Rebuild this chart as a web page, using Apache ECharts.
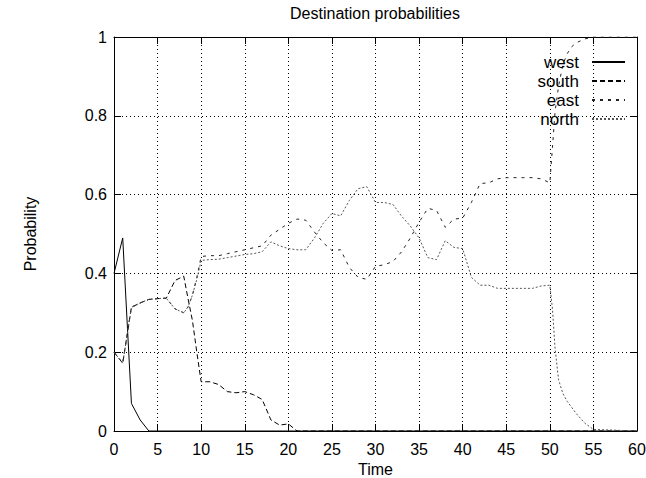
<!DOCTYPE html>
<html>
<head>
<meta charset="utf-8">
<script src="https://cdn.jsdelivr.net/npm/echarts@6/dist/echarts.min.js"></script>
<style>
html,body{margin:0;padding:0;background:#fff;}
#chart{width:646px;height:478px;}
</style>
</head>
<body>
<div id="chart"></div>
<script>
const titleText = 'Destination probabilities';
const xName = 'Time';
const yName = 'Probability';
const seriesNames = ['west', 'south', 'east', 'north'];

const westTime = [0, 1, 2, 3, 4, 60];
const westProb = [0.40, 0.49, 0.07, 0.028, 0.0, 0.0];

const southTime = [0,1,2,3,4,5,6,7,8,8.5,9,9.5,10,11,12,13,14,15,16,17,18,19,20,21,60];
const southProb = [0.20,0.172,0.314,0.325,0.334,0.336,0.337,0.382,0.393,0.335,0.28,0.20,0.125,0.125,0.118,0.100,0.097,0.100,0.092,0.080,0.028,0.015,0.018,0.0,0.0];

const eastTime = [0,1,2,3,4,5,6,7,8,8.5,9,9.5,10,11,12,13,14,15,16,17,18,19,20,21,22,23,24,25,26,27,28,29,30,31,32,33,34,35,36,37,38,39,40,41,42,43,44,45,46,47,48,49,50,50.3,50.6,51,51.5,52,52.5,53,54,55,60];
const eastProb = [0.20,0.172,0.314,0.325,0.334,0.336,0.337,0.31,0.30,0.315,0.345,0.39,0.443,0.445,0.445,0.45,0.455,0.46,0.465,0.47,0.497,0.512,0.527,0.538,0.535,0.505,0.478,0.458,0.46,0.415,0.39,0.385,0.418,0.422,0.43,0.455,0.49,0.53,0.565,0.56,0.517,0.538,0.54,0.58,0.628,0.63,0.64,0.643,0.643,0.643,0.643,0.64,0.63,0.72,0.81,0.875,0.93,0.958,0.975,0.985,0.995,1.0,1.0];

const northTime = [0,1,2,3,4,5,6,7,8,8.5,9,9.5,10,11,12,13,14,15,16,17,18,19,20,21,22,23,24,25,26,27,28,29,30,31,32,33,34,35,36,37,38,39,40,41,42,43,44,45,46,47,48,49,50,50.3,50.6,51,51.5,52,52.5,53,54,55,60];
const northProb = [0.20,0.172,0.314,0.325,0.334,0.336,0.337,0.31,0.30,0.315,0.345,0.385,0.433,0.435,0.436,0.44,0.444,0.448,0.45,0.455,0.48,0.47,0.463,0.46,0.46,0.49,0.527,0.552,0.546,0.585,0.615,0.62,0.58,0.58,0.575,0.545,0.52,0.49,0.44,0.435,0.483,0.466,0.463,0.39,0.37,0.37,0.362,0.362,0.362,0.362,0.362,0.368,0.37,0.31,0.21,0.13,0.095,0.075,0.06,0.045,0.02,0.004,0.0];

function pairs(t, v) { return t.map((x, i) => [x, v[i]]); }

const FONT = 'Liberation Sans, Arial, Helvetica, sans-serif';
const chart = echarts.init(document.getElementById('chart'), null, {renderer: 'svg'});

const gridLine = {show: true, lineStyle: {color: '#000', width: 1, type: [1, 3]}};
const frameLine = {show: true, onZero: false, lineStyle: {color: '#000', width: 1}};
const tick = {show: true, inside: true, length: 7, lineStyle: {color: '#000'}};

const lineSeries = (name, t, v, color, type) => ({
  name, type: 'line', data: pairs(t, v), symbol: 'none', showSymbol: false,
  lineStyle: {color, width: 1, type}, itemStyle: {color}, z: 3
});

chart.setOption({
  animation: false,
  backgroundColor: '#fff',
  textStyle: {fontFamily: FONT},
  grid: {left: 114, right: 9, top: 37, bottom: 47, containLabel: false, outerBoundsMode: 'none'},
  graphic: [{
    type: 'text', x: 375, y: 13,
    style: {text: titleText, textAlign: 'center', textVerticalAlign: 'middle', font: '16px ' + FONT, fill: '#000'}
  }],
  legend: {
    data: seriesNames, orient: 'vertical', right: 15, top: 48, align: 'right',
    itemWidth: 33, itemHeight: 14, itemGap: 1,
    itemStyle: {opacity: 0, borderWidth: 0},
    textStyle: {fontSize: 17, color: '#000', fontFamily: FONT, padding: [0, 8, 0, 0], lineHeight: 18},
    inactiveColor: '#000'
  },
  xAxis: [{
    type: 'value', min: 0, max: 60, interval: 5, position: 'bottom',
    name: xName, nameLocation: 'middle', nameGap: 26,
    nameTextStyle: {fontSize: 16, color: '#000', fontFamily: FONT},
    axisLine: frameLine, axisTick: tick, splitLine: gridLine,
    axisLabel: {fontSize: 16, color: '#000', margin: 10, fontFamily: FONT}
  }, {
    type: 'value', min: 0, max: 60, interval: 5, position: 'top',
    axisLine: frameLine, axisTick: tick, splitLine: {show: false}, axisLabel: {show: false}
  }],
  yAxis: [{
    type: 'value', min: 0, max: 1, interval: 0.2, position: 'left',
    name: yName, nameLocation: 'middle', nameGap: 76, nameRotate: 90,
    nameTextStyle: {fontSize: 16, color: '#000', fontFamily: FONT},
    axisLine: frameLine, axisTick: tick, splitLine: gridLine,
    axisLabel: {fontSize: 16, color: '#000', margin: 7, fontFamily: FONT}
  }, {
    type: 'value', min: 0, max: 1, interval: 0.2, position: 'right',
    axisLine: frameLine, axisTick: tick, splitLine: {show: false}, axisLabel: {show: false}
  }],
  series: [
    lineSeries('west', westTime, westProb, '#000', 'solid'),
    lineSeries('south', southTime, southProb, '#000', [5, 3]),
    lineSeries('east', eastTime, eastProb, '#222', [3, 5]),
    lineSeries('north', northTime, northProb, '#555', [2, 2])
  ]
});
</script>
</body>
</html>
